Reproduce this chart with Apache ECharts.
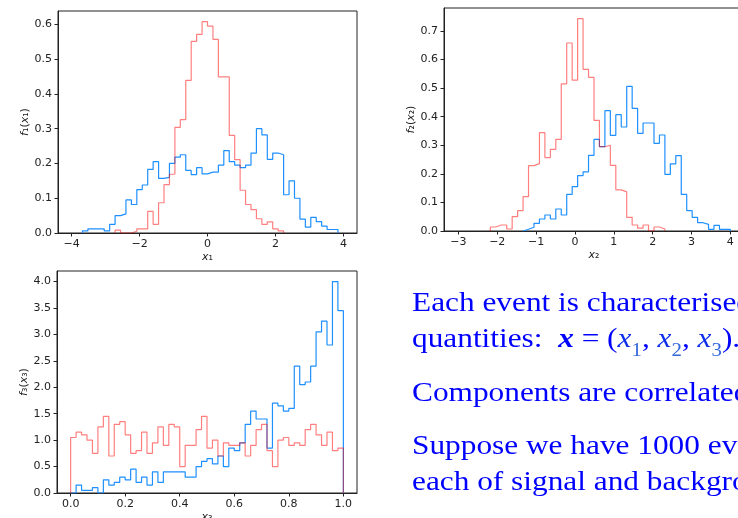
<!DOCTYPE html>
<html><head><meta charset="utf-8">
<script src="https://cdn.jsdelivr.net/npm/echarts@6/dist/echarts.min.js"></script>
<style>html,body{margin:0;padding:0;background:#fff}#c{width:738px;height:518px}</style>
</head><body><div id="c"></div>
<script>
// ---- Panel 1: f1(x1), bins of width 0.16 starting at -3.68
const x1BinStart = -3.68, x1BinWidth = 0.16;
const x1BlueFirstBin = 0;
const x1Blue = [0.006,0.012,0.012,0.012,0.006,0.025,0.05,0.055,0.095,0.082,0.125,0.138,0.183,0.205,0.157,0.16,0.2,0.218,0.225,0.18,0.168,0.188,0.17,0.175,0.175,0.195,0.237,0.205,0.195,0.188,0.195,0.23,0.3,0.282,0.212,0.23,0.225,0.11,0.15,0.10,0.04,0.017,0.045,0.033,0.02,0.01,0.01];
const x1RedFirstBin = 6;
const x1Red = [0.008,0,0,0.005,0.012,0.012,0.062,0.025,0.087,0.139,0.169,0.304,0.326,0.439,0.551,0.571,0.608,0.595,0.557,0.449,0.449,0.281,0.211,0.123,0.082,0.067,0.041,0.025,0.032,0.012,0.006];
const x1Ticks = [-4,-2,0,2,4];
const y1Ticks = [0,0.1,0.2,0.3,0.4,0.5,0.6];

// ---- Panel 2: f2(x2), bins of width 0.1404 starting at -2.178
const x2BinStart = -2.178, x2BinWidth = 0.1404;
const x2RedFirstBin = 0;
const x2Red = [0.014,0.021,0.021,0.007,0.05,0.071,0.12,0.229,0.236,0.344,0.257,0.286,0.321,0.515,0.658,0.528,0.743,0.566,0.538,0.387,0.295,0.30,0.23,0.144,0.137,0.048,0.021,0.01,0.021,0,0.014,0.007];
const x2BlueFirstBin = 6;
const x2Blue = [0.006,0.013,0.027,0.042,0.056,0.042,0.077,0.056,0.128,0.155,0.194,0.207,0.265,0.321,0.295,0.421,0.335,0.407,0.364,0.506,0.429,0.342,0.378,0.378,0.307,0.336,0.198,0.235,0.264,0.128,0.071,0.048,0.029,0.023,0.006,0.02,0.006,0.006];
const x2Ticks = [-3,-2,-1,0,1,2,3,4];
const y2Ticks = [0,0.1,0.2,0.3,0.4,0.5,0.6,0.7];

// ---- Panel 3: f3(x3), bins of width 0.02 from 0 to 1
const x3BinStart = 0, x3BinWidth = 0.02;
const x3Red = [1.05,1.15,1.1,1.0,0.75,1.25,1.45,0.7,1.3,1.35,1.1,0.75,0.8,1.15,0.75,0.95,1.25,0.9,1.3,1.25,0.5,0.9,0.9,1.2,1.45,
               0.85,1.0,0.7,0.95,0.9,0.9,0.95,0.7,0.9,1.2,1.3,0.8,0.5,1.0,1.05,0.9,0.95,0.9,1.2,1.3,1.1,0.9,1.15,0.8,0.85];
const x3Blue = [0,0.15,0.05,0.05,0.1,0,0.25,0.15,0.2,0.3,0.25,0.45,0.2,0.3,0.15,0.4,0.2,0.4,0.4,0.4,0.4,0.3,0.3,0.5,0.6,
                0.65,0.55,0.7,0.5,0.85,0.8,0.95,1.3,1.55,1.4,1.4,0.85,1.7,1.65,1.55,1.6,2.4,2.05,2.1,2.4,3.05,3.25,2.8,4.0,3.45];
const x3Ticks = [0,0.2,0.4,0.6,0.8,1.0];
const y3Ticks = [0,0.5,1.0,1.5,2.0,2.5,3.0,3.5,4.0];

const BLUE = '#1e90ff';
const RED = 'rgba(255,0,0,0.5)';
const INK = '#222';
const TICK_FS = 11;

function outline(start, width, firstBin, values) {
  const pts = [];
  const e = i => start + (firstBin + i) * width;
  pts.push([e(0), 0]);
  values.forEach((v, i) => { pts.push([e(i), v]); pts.push([e(i + 1), v]); });
  pts.push([e(values.length), 0]);
  return pts;
}
const fmt = d => v => v.toFixed(d).replace('-', '\u2212');
const nameStyle = { fontFamily: 'DejaVu Sans', fontSize: 11, color: INK,
  rich: { i: { fontStyle: 'italic', fontFamily: 'DejaVu Sans', fontSize: 11, color: INK } } };

function xAxis(idx, min, max, ticks, dec, name) {
  return {
    gridIndex: idx, type: 'value', min: min, max: max,
    name: name, nameLocation: 'middle', nameGap: 19, nameTextStyle: nameStyle,
    axisLine: { onZero: false, lineStyle: { color: INK, width: 1 } },
    axisTick: { customValues: ticks, length: 3.5, lineStyle: { color: INK, width: 1 } },
    axisLabel: { customValues: ticks, formatter: fmt(dec), margin: 6, fontFamily: 'DejaVu Sans', fontSize: TICK_FS, color: INK },
    splitLine: { show: false }
  };
}
function yAxis(idx, max, ticks, name) {
  return {
    gridIndex: idx, type: 'value', min: 0, max: max,
    name: name, nameLocation: 'middle', nameGap: 26, nameRotate: 90, nameTextStyle: nameStyle,
    axisLine: { onZero: false, lineStyle: { color: INK, width: 1 } },
    axisTick: { customValues: ticks, length: 3.5, lineStyle: { color: INK, width: 1 } },
    axisLabel: { customValues: ticks, formatter: fmt(1), margin: 6, fontFamily: 'DejaVu Sans', fontSize: TICK_FS, color: INK },
    splitLine: { show: false }
  };
}
function line(idx, data, color) {
  return { type: 'line', xAxisIndex: idx, yAxisIndex: idx, data: data, showSymbol: false, symbol: 'none',
           lineStyle: { color: color, width: 1.2 }, itemStyle: { color: color }, clip: true, silent: true };
}

const gridBox = { show: true, borderColor: INK, borderWidth: 1, backgroundColor: '#fff', containLabel: false, outerBoundsMode: 'none' };
const option = {
  animation: false,
  backgroundColor: '#fff',
  grid: [
    Object.assign({ left: 58, top: 11, width: 299, height: 222 }, gridBox),
    Object.assign({ left: 444, top: 8, width: 300, height: 223 }, gridBox),
    Object.assign({ left: 57, top: 271, width: 300, height: 222 }, gridBox)
  ],
  xAxis: [
    xAxis(0, -4.4, 4.4, x1Ticks, 0, '{i|x}\u2081'),
    xAxis(1, -3.371, 4.351, x2Ticks, 0, '{i|x}\u2082'),
    xAxis(2, -0.05, 1.05, x3Ticks, 1, '{i|x}\u2083')
  ],
  yAxis: [
    yAxis(0, 0.6385, y1Ticks, '{i|f}\u2081({i|x}\u2081)'),
    yAxis(1, 0.7805, y2Ticks, '{i|f}\u2082({i|x}\u2082)'),
    yAxis(2, 4.2, y3Ticks, '{i|f}\u2083({i|x}\u2083)')
  ],
  series: [
    line(0, outline(x1BinStart, x1BinWidth, x1BlueFirstBin, x1Blue), BLUE),
    line(0, outline(x1BinStart, x1BinWidth, x1RedFirstBin, x1Red), RED),
    line(1, outline(x2BinStart, x2BinWidth, x2BlueFirstBin, x2Blue), BLUE),
    line(1, outline(x2BinStart, x2BinWidth, x2RedFirstBin, x2Red), RED),
    line(2, outline(x3BinStart, x3BinWidth, 0, x3Blue), BLUE),
    line(2, outline(x3BinStart, x3BinWidth, 0, x3Red), RED)
  ],
  graphic: (function () {
    const F = 'Liberation Serif', S = 27, C = '#0000ff', SX = 1.16;
    const plain = (txt, y) => ({ type: 'text', x: 412, y: y, scaleX: SX, silent: true,
      style: { text: txt, fontFamily: F, fontSize: S, fill: C, verticalAlign: 'middle', align: 'left' } });
    const rich = {
      n: { fontFamily: F, fontSize: S, fill: C, color: C, lineHeight: 40 },
      b: { fontFamily: F, fontSize: S, fontStyle: 'italic', fontWeight: 'bold', fill: C, color: C, lineHeight: 40 },
      i: { fontFamily: F, fontSize: S, fontStyle: 'italic', fill: '#1030ee', color: '#1030ee', lineHeight: 40 },
      s: { fontFamily: F, fontSize: 18, fill: '#3366dd', color: '#3366dd', lineHeight: 18, verticalAlign: 'bottom' }
    };
    return [
      plain('Each event is characterised by 3', 304.2),
      { type: 'text', x: 412, y: 340, scaleX: SX, silent: true,
        style: { text: '{n|quantities:  }{b|x}{n| = (}{i|x}{s|1}{n|, }{i|x}{s|2}{n|, }{i|x}{s|3}{n|).}',
                 rich: rich, fontFamily: F, fontSize: S, fill: C, verticalAlign: 'middle', align: 'left' } },
      plain('Components are correlated in each class.', 394.2),
      plain('Suppose we have 1000 events', 446.6),
      plain('each of signal and background.', 483.2)
    ];
  })()
};
const chart = echarts.init(document.getElementById('c'), null, { renderer: 'canvas' });
chart.setOption(option);
</script></body></html>
